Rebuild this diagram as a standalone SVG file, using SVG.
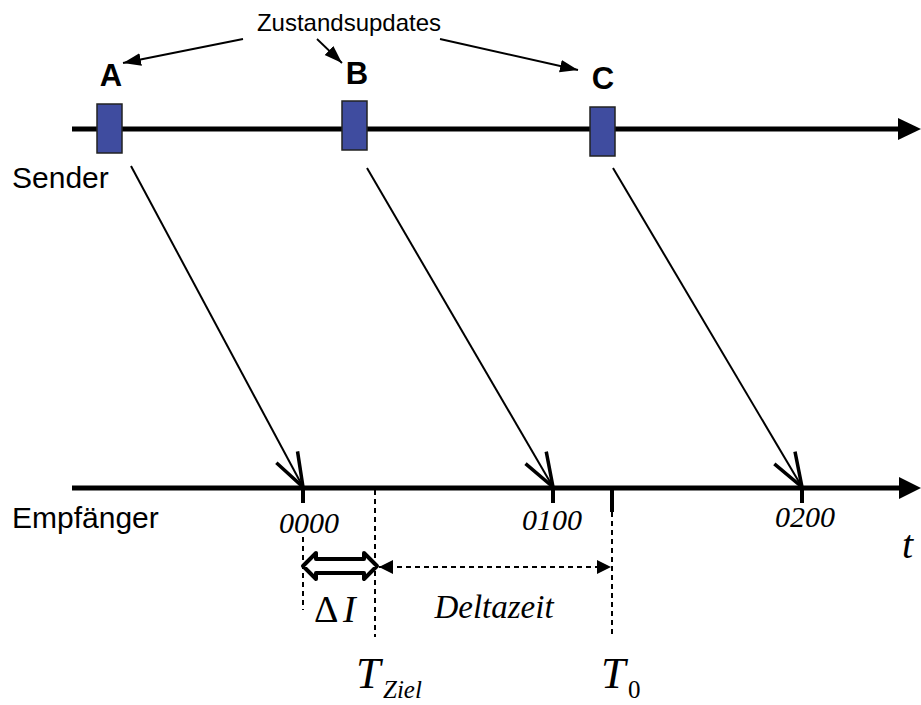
<svg xmlns="http://www.w3.org/2000/svg" width="921" height="705" viewBox="0 0 921 705">
<defs>
<marker id="small" viewBox="0 0 10 10" refX="10" refY="5" markerWidth="14" markerHeight="14" markerUnits="userSpaceOnUse" orient="auto">
<path d="M0,0 L10,5 L0,10 z" fill="#000"/>
</marker>
<marker id="smallS" viewBox="0 0 10 10" refX="0" refY="5" markerWidth="14" markerHeight="14" markerUnits="userSpaceOnUse" orient="auto">
<path d="M10,0 L0,5 L10,10 z" fill="#000"/>
</marker>
<marker id="ann" viewBox="0 0 10 10" refX="10" refY="5" markerWidth="18" markerHeight="18" markerUnits="userSpaceOnUse" orient="auto">
<path d="M0,1.5 L10,5 L0,8.5 z" fill="#000"/>
</marker>
<marker id="open" viewBox="-40 -20 42 40" refX="0" refY="0" markerWidth="42" markerHeight="40" markerUnits="userSpaceOnUse" orient="auto">
<path d="M-34,-12 L0,0 L-34,12" fill="none" stroke="#000" stroke-width="3.5" stroke-linejoin="miter"/>
</marker>
</defs>
<style>
.axis{stroke:#000;stroke-width:5;fill:none}
.rect{fill:#3F4C9F;stroke:#222;stroke-width:1.5}
.sans{font-family:"Liberation Sans",Arial,sans-serif;fill:#000}
.serif{font-family:"Liberation Serif","Times New Roman",serif;fill:#000}
.it{font-style:italic}
.msg{stroke:#000;stroke-width:2;fill:none}
.ann{stroke:#000;stroke-width:1.8;fill:none}
.tick{stroke:#000;stroke-width:4;fill:none}
.dash{stroke:#000;stroke-width:2;stroke-dasharray:5,4;fill:none}
</style>
<rect width="921" height="705" fill="#fff"/>

<g id="connectors">
<line class="axis" x1="72" y1="129" x2="900" y2="129"/>
<path d="M898,118 L921,129 L898,140 z" fill="#000"/>
<line class="axis" x1="72" y1="488" x2="900" y2="488"/>
<path d="M899,477 L921,488 L899,499 z" fill="#000"/>

<line class="msg" x1="131" y1="166" x2="303" y2="487" marker-end="url(#open)"/>
<line class="msg" x1="367" y1="168" x2="553" y2="487" marker-end="url(#open)"/>
<line class="msg" x1="613" y1="168" x2="802" y2="487" marker-end="url(#open)"/>

<line class="ann" x1="243" y1="39" x2="123" y2="63" marker-end="url(#ann)"/>
<line class="ann" x1="317" y1="39" x2="342" y2="63" marker-end="url(#ann)"/>
<line class="ann" x1="440" y1="39" x2="578" y2="70" marker-end="url(#ann)"/>

<line class="tick" x1="303" y1="488" x2="303" y2="503"/>
<line class="tick" x1="553" y1="488" x2="553" y2="503"/>
<line class="tick" x1="612" y1="488" x2="612" y2="512"/>
<line class="tick" x1="802" y1="488" x2="802" y2="503"/>

<line class="dash" x1="303" y1="537" x2="303" y2="610"/>
<line class="dash" x1="375" y1="490" x2="375" y2="637"/>
<line class="dash" x1="612" y1="512" x2="612" y2="637"/>

<path d="M303,566 L316,553 L316,559 L364,559 L364,553 L377,566 L364,579 L364,573 L316,573 L316,579 z" fill="#fff" stroke="#000" stroke-width="4" stroke-linejoin="round"/>
<line class="dash" x1="379" y1="567" x2="611" y2="567" marker-start="url(#smallS)" marker-end="url(#small)"/>
</g>

<g id="A">
<rect class="rect" x="97" y="104" width="25" height="49"/>
<text class="sans" x="111" y="86" font-size="31" font-weight="bold" text-anchor="middle">A</text>
</g>
<g id="B">
<rect class="rect" x="342" y="101" width="25" height="49"/>
<text class="sans" x="357" y="84" font-size="31" font-weight="bold" text-anchor="middle">B</text>
</g>
<g id="C">
<rect class="rect" x="590" y="107" width="25" height="49"/>
<text class="sans" x="603" y="89" font-size="31" font-weight="bold" text-anchor="middle">C</text>
</g>

<g id="labels">
<text class="sans" x="349" y="31" font-size="24" text-anchor="middle">Zustandsupdates</text>
<text class="sans" x="12" y="188" font-size="30">Sender</text>
<text class="sans" x="12" y="528" font-size="30">Empfänger</text>
<text class="serif it" x="309" y="533" font-size="30" text-anchor="middle">0000</text>
<text class="serif it" x="552" y="530" font-size="30" text-anchor="middle">0100</text>
<text class="serif it" x="805" y="527" font-size="30" text-anchor="middle">0200</text>
<text class="serif it" x="902" y="558" font-size="40">t</text>
<text class="serif" x="314" y="622" font-size="38">Δ</text>
<text class="serif it" x="343" y="622" font-size="38">I</text>
<text class="serif it" x="494" y="618" font-size="33" text-anchor="middle">Deltazeit</text>
<text class="serif it" x="356" y="688" font-size="44">T</text>
<text class="serif it" x="383" y="698" font-size="25">Ziel</text>
<text class="serif it" x="601" y="688" font-size="44">T</text>
<text class="serif" x="628" y="698" font-size="25">0</text>
</g>
</svg>
